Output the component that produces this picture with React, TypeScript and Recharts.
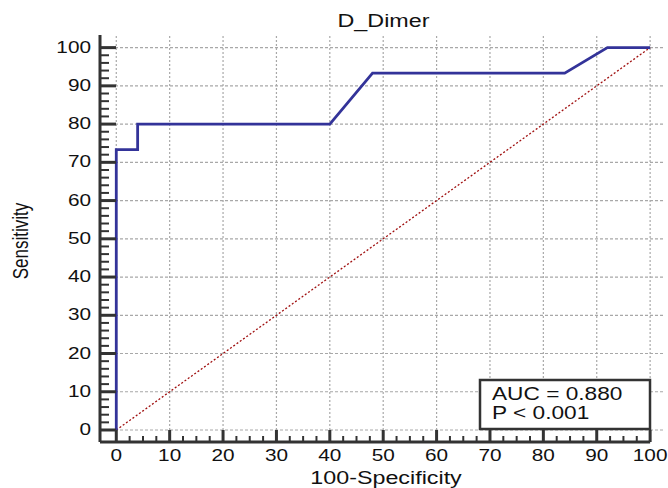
import { LineChart, Line, XAxis, YAxis, ReferenceLine } from 'recharts';

// ROC curve for D_Dimer (100-Specificity vs Sensitivity)
const rocX = [0, 0, 4, 4, 40, 48, 84, 92, 100];
const rocY = [0, 73.33, 73.33, 80, 80, 93.33, 93.33, 100, 100];

const diagX = [0, 100];
const diagY = [0, 100];

const xMajorTicks = [0, 10, 20, 30, 40, 50, 60, 70, 80, 90, 100];
const yMajorTicks = [0, 10, 20, 30, 40, 50, 60, 70, 80, 90, 100];

const aucText = 'AUC = 0.880';
const pText = 'P < 0.001';

const X_MIN = -3.05;
const X_MAX = 102.6;
const Y_MIN = -3.14;
const Y_MAX = 103.3;

const FONT = '"Liberation Sans", Arial, sans-serif';
const STRETCH = 1.26;
const AXIS_COLOR = '#333';
const GRID_COLOR = '#a8a8a8';

// minor ticks: x every 2.5, y every 2
const xTicks: number[] = [];
for (let i = 0; i <= 40; i++) xTicks.push(i * 2.5);
const yTicks: number[] = [];
for (let i = 0; i <= 50; i++) yTicks.push(i * 2);

const rocData = rocX.map((x, i) => ({ x, y: rocY[i] }));
const diagData = diagX.map((x, i) => ({ x, y: diagY[i] }));

function StretchText({ x, y, size, anchor = 'start', rotate = false, children }: any) {
  const t = `translate(${x},${y}) scale(${STRETCH},1)${rotate ? ' rotate(-90)' : ''}`;
  return (
    <text transform={t} x={0} y={0} fontSize={size} fontFamily={FONT} fill="#111" textAnchor={anchor}>
      {children}
    </text>
  );
}

function XTick(props: any) {
  const x = Number(props.x);
  const y = Number(props.y);
  const v = props.payload.value;
  const major = v % 10 === 0;
  const len = major ? 12 : 6;
  return (
    <g>
      <path d={`M${x},${y}L${x},${y - len}`} stroke={AXIS_COLOR} strokeWidth={major ? 3 : 2} fill="none" />
      {major && (
        <StretchText x={x} y={y + 18.5} size={16.5} anchor="middle">
          {v}
        </StretchText>
      )}
    </g>
  );
}

function YTick(props: any) {
  const x = Number(props.x);
  const y = Number(props.y);
  const v = props.payload.value;
  const major = v % 10 === 0;
  const len = major ? 16 : 9;
  return (
    <g>
      <path d={`M${x},${y}L${x + len},${y}`} stroke={AXIS_COLOR} strokeWidth={major ? 3 : 2} fill="none" />
      {major && (
        <StretchText x={x - 9} y={y + 5} size={16.5} anchor="end">
          {v}
        </StretchText>
      )}
    </g>
  );
}

export default function App() {
  return (
    <div style={{ position: 'absolute', left: 0, top: 0, width: 668, height: 488, background: '#fff' }}>
      <LineChart width={668} height={488} margin={{ top: 35, right: 4, bottom: 45, left: 99 }}>
        {xMajorTicks.map((v) => (
          <ReferenceLine key={'gx' + v} x={v} stroke={GRID_COLOR} strokeWidth={1.2} strokeDasharray="2 2" />
        ))}
        {yMajorTicks.map((v) => (
          <ReferenceLine key={'gy' + v} y={v} stroke={GRID_COLOR} strokeWidth={1.2} strokeDasharray="3 2" />
        ))}
        <XAxis
          type="number"
          dataKey="x"
          domain={[X_MIN, X_MAX]}
          ticks={xTicks}
          interval={0}
          allowDataOverflow
          axisLine={false}
          tickLine={false}
          tickSize={0}
          tickMargin={0}
          height={1}
          tick={(p: any) => <XTick {...p} />}
        />
        <YAxis
          type="number"
          dataKey="y"
          domain={[Y_MIN, Y_MAX]}
          ticks={yTicks}
          interval={0}
          allowDataOverflow
          axisLine={false}
          tickLine={false}
          tickSize={0}
          tickMargin={0}
          width={1}
          tick={(p: any) => <YTick {...p} />}
        />
        <ReferenceLine
          segment={[
            { x: X_MIN, y: Y_MIN },
            { x: 100, y: Y_MIN },
          ]}
          stroke={AXIS_COLOR}
          strokeWidth={3}
          ifOverflow="visible"
        />
        <ReferenceLine
          segment={[
            { x: X_MIN, y: Y_MIN },
            { x: X_MIN, y: Y_MAX },
          ]}
          stroke={AXIS_COLOR}
          strokeWidth={3}
          ifOverflow="visible"
        />
        <Line
          data={diagData}
          dataKey="y"
          type="linear"
          stroke="#a01010"
          strokeWidth={1.3}
          strokeDasharray="2 2"
          dot={false}
          isAnimationActive={false}
        />
        <Line
          data={rocData}
          dataKey="y"
          type="linear"
          stroke="#333399"
          strokeWidth={2.8}
          dot={false}
          isAnimationActive={false}
        />
      </LineChart>
      <svg width={668} height={488} style={{ position: 'absolute', left: 0, top: 0, pointerEvents: 'none' }}>
        <StretchText x={383.5} y={27} size={18.5} anchor="middle">
          D_Dimer
        </StretchText>
        <StretchText x={386} y={484} size={18.5} anchor="middle">
          100-Specificity
        </StretchText>
        <StretchText x={28} y={241} size={17} anchor="middle" rotate>
          Sensitivity
        </StretchText>
        <rect x={480} y={380} width={170} height={49} fill="#fff" stroke={AXIS_COLOR} strokeWidth={2.5} />
        <StretchText x={492} y={399.5} size={18}>
          {aucText}
        </StretchText>
        <StretchText x={492} y={418.5} size={18}>
          {pText}
        </StretchText>
      </svg>
    </div>
  );
}
